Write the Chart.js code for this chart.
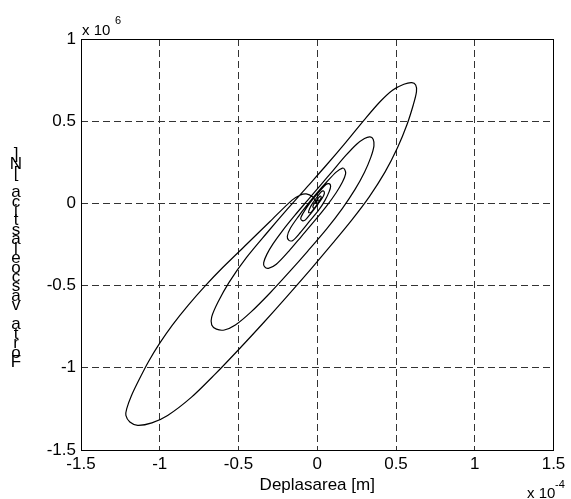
<!DOCTYPE html>
<html>
<head>
<meta charset="utf-8">
<script src="https://cdn.jsdelivr.net/npm/chart.js@4.4.0/dist/chart.umd.min.js"></script>
<style>
  html, body { margin: 0; padding: 0; background: #fff; }
  #wrap { width: 571px; height: 499px; }
</style>
</head>
<body>
<div id="wrap"><canvas id="hyst" width="571" height="499"></canvas></div>
<script>
// displacement (x 1e-4 m) and viscoelastic force (x 1e6 N) in path order
const DISP = [
  0.00, -0.03, -0.07, -0.11, -0.16,
  -0.30, -0.45, -0.60, -0.71, -0.82, -0.92, -1.00, -1.07, -1.13, -1.18, -1.21, -1.215, -1.19, -1.14,
  -1.05, -0.95, -0.80, -0.65, -0.50, -0.35, -0.20, -0.05, 0.10, 0.22, 0.33, 0.43, 0.51, 0.57, 0.61, 0.63, 0.625, 0.60,
  0.55, 0.48, 0.40, 0.30, 0.18, 0.06, -0.06, -0.19, -0.32, -0.45, -0.56, -0.63, -0.67, -0.67, -0.64, -0.59,
  -0.52, -0.42, -0.30, -0.18, -0.06, 0.06, 0.16, 0.24, 0.30, 0.34, 0.36, 0.355, 0.335,
  0.30, 0.25, 0.18, 0.10, 0.02, -0.06, -0.14, -0.22, -0.28, -0.32, -0.34, -0.335, -0.31,
  -0.26, -0.18, -0.10, -0.02, 0.06, 0.12, 0.16, 0.18, 0.175, 0.16,
  0.12, 0.06, 0.00, -0.06, -0.12, -0.17, -0.19, -0.18, -0.155,
  -0.11, -0.05, 0.01, 0.05, 0.075, 0.085, 0.075, 0.055,
  0.02, -0.02, -0.06, -0.09, -0.105, -0.095, -0.075,
  -0.04, 0.00, 0.03, 0.045, 0.04, 0.025,
  0.00, -0.03, -0.05, -0.055, -0.04,
  -0.015, 0.01, 0.025, 0.02, 0.005, -0.015, -0.028, -0.02, 0.00, 0.012, 0.005, -0.008, 0.00
];
const FORCE = [
  0.00, 0.04, 0.058, 0.05, 0.02,
  -0.11, -0.25, -0.39, -0.50, -0.62, -0.74, -0.85, -0.96, -1.07, -1.17, -1.25, -1.29, -1.33, -1.35,
  -1.335, -1.29, -1.18, -1.04, -0.89, -0.735, -0.575, -0.41, -0.24, -0.10, 0.04, 0.19, 0.34, 0.48, 0.60, 0.68, 0.72, 0.735,
  0.725, 0.69, 0.62, 0.51, 0.37, 0.235, 0.105, -0.035, -0.18, -0.33, -0.48, -0.60, -0.69, -0.74, -0.765, -0.77,
  -0.74, -0.66, -0.545, -0.42, -0.29, -0.155, -0.03, 0.085, 0.19, 0.28, 0.35, 0.39, 0.405,
  0.395, 0.36, 0.29, 0.20, 0.11, 0.02, -0.07, -0.165, -0.245, -0.31, -0.36, -0.385, -0.395,
  -0.37, -0.29, -0.20, -0.11, -0.015, 0.065, 0.13, 0.18, 0.205, 0.215,
  0.19, 0.13, 0.065, -0.005, -0.08, -0.15, -0.20, -0.225, -0.225,
  -0.18, -0.11, -0.04, 0.02, 0.07, 0.105, 0.12, 0.115,
  0.08, 0.035, -0.015, -0.06, -0.09, -0.105, -0.10,
  -0.06, -0.01, 0.03, 0.06, 0.075, 0.07,
  0.04, 0.00, -0.035, -0.055, -0.055,
  -0.025, 0.01, 0.035, 0.045, 0.03, 0.005, -0.02, -0.03, -0.005, 0.015, 0.02, 0.00, 0.00
];

const X_TICKS = [-1.5, -1, -0.5, 0, 0.5, 1, 1.5];
const Y_TICKS = [-1.5, -1, -0.5, 0, 0.5, 1];
const X_TITLE = 'Deplasarea [m]';
const Y_TITLE = 'Forta vascoelastica [N]';
const X_EXP = '-4';
const Y_EXP = '6';

const FONT = '"Liberation Sans", Arial, Helvetica, sans-serif';

// box round the axes, exponent labels and the odd stacked y label
const extras = {
  id: 'extras',
  afterDraw(chart) {
    const { ctx, chartArea: a } = chart;
    ctx.save();
    ctx.strokeStyle = '#000';
    ctx.lineWidth = 1;
    ctx.setLineDash([]);
    const l = Math.floor(a.left) + 0.5, t = Math.floor(a.top) + 0.5;
    const r = Math.floor(a.right) + 0.5, b = Math.floor(a.bottom) + 0.5;
    ctx.strokeRect(l, t, r - l, b - t);

    ctx.fillStyle = '#000';
    ctx.textBaseline = 'alphabetic';
    ctx.textAlign = 'left';
    ctx.font = '15px ' + FONT;
    ctx.fillText('x 10', 82, 35);
    ctx.fillText('x 10', 527, 498);
    ctx.font = '11px ' + FONT;
    ctx.fillText(Y_EXP, 115, 24);
    ctx.fillText(X_EXP, 555, 488);

    ctx.font = '17px ' + FONT;
    ctx.textAlign = 'center';
    Y_TITLE.split('').forEach((c, i) => {
      ctx.fillText(c, 16, 367 - i * 9.44);
    });
    ctx.restore();
  }
};

const tickFont = { family: FONT, size: 17 };

new Chart(document.getElementById('hyst'), {
  type: 'scatter',
  data: {
    datasets: [{
      data: DISP.map((x, i) => ({ x, y: FORCE[i] })),
      showLine: true,
      borderColor: '#000',
      borderWidth: 1.2,
      pointRadius: 0,
      tension: 0.3,
      fill: false,
    }],
  },
  options: {
    responsive: false,
    animation: false,
    events: [],
    layout: { padding: { top: 39, right: 17.5, left: 0, bottom: 0 } },
    plugins: { legend: { display: false }, tooltip: { enabled: false } },
    scales: {
      x: {
        type: 'linear',
        min: -1.5,
        max: 1.5,
        afterBuildTicks: (s) => { s.ticks = X_TICKS.map((v) => ({ value: v })); },
        afterFit: (s) => { s.height = 49; },
        ticks: {
          color: '#000',
          font: tickFont,
          padding: 4,
          maxRotation: 0,
          callback: (v) => String(v),
        },
        grid: { color: '#333', lineWidth: 1, drawTicks: false },
        border: { display: false, dash: [7, 4] },
        title: {
          display: true,
          text: X_TITLE,
          color: '#000',
          font: { family: FONT, size: 17 },
          padding: { top: 0, bottom: 3 },
        },
      },
      y: {
        type: 'linear',
        min: -1.5,
        max: 1,
        afterBuildTicks: (s) => { s.ticks = Y_TICKS.map((v) => ({ value: v })); },
        afterFit: (s) => { s.width = 81; },
        ticks: {
          color: '#000',
          font: tickFont,
          padding: 5,
          callback: (v) => String(v),
        },
        grid: { color: '#333', lineWidth: 1, drawTicks: false },
        border: { display: false, dash: [7, 4] },
      },
    },
  },
  plugins: [extras],
});
</script>
</body>
</html>
